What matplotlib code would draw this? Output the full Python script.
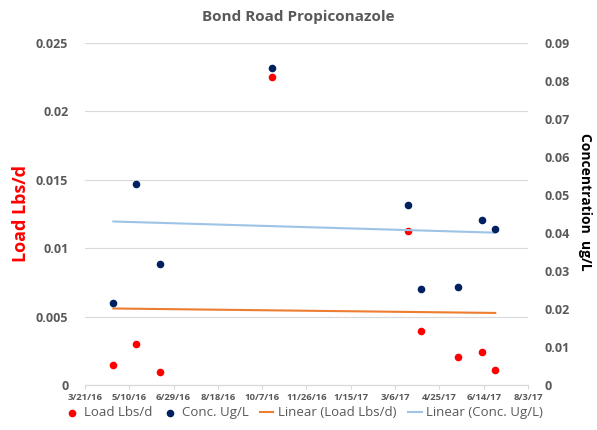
import pandas as pd
import matplotlib
matplotlib.use('Agg')
import matplotlib.pyplot as plt
import matplotlib.dates as mdates
import numpy as np
from matplotlib.ticker import FuncFormatter

dates = ['2016-04-22', '2016-05-18', '2016-06-14', '2016-10-18', '2017-03-21',
         '2017-04-04', '2017-05-16', '2017-06-12', '2017-06-27']
load_lbs_d = [0.00144, 0.00297, 0.00095, 0.0225, 0.01128, 0.00395, 0.00205, 0.00244, 0.0011]
conc_ug_l = [0.0217, 0.0528, 0.0318, 0.0834, 0.0473, 0.0253, 0.0257, 0.0433, 0.0411]

x_tick_labels = ['3/21/16', '5/10/16', '6/29/16', '8/18/16', '10/7/16', '11/26/16',
                 '1/15/17', '3/6/17', '4/25/17', '6/14/17', '8/3/17']
load_ticks = [0, 0.005, 0.01, 0.015, 0.02, 0.025]
conc_ticks = [0, 0.01, 0.02, 0.03, 0.04, 0.05, 0.06, 0.07, 0.08, 0.09]

plt.rcParams['font.family'] = ['Open Sans', 'DejaVu Sans']
grey = '#595959'


def trend(x, y):
    """Excel style linear trendline over the data range."""
    k, b = np.polyfit(x, y, 1)
    xs = np.array([x.min(), x.max()])
    return xs, k * xs + b


def fmt(v, pos):
    return '0' if v == 0 else ('%g' % v)


if __name__ == "__main__":
    d = pd.to_datetime(dates)
    xnum = mdates.date2num(d)
    xticks = mdates.date2num(pd.to_datetime(x_tick_labels, format='%m/%d/%y'))

    fig = plt.figure(figsize=(5.97, 4.30), dpi=100)
    ax = fig.add_axes([0.1424, 0.1047, 0.742, 0.7953])
    ax2 = ax.twinx()

    ax.set_ylim(0, 0.025)
    ax2.set_ylim(0, 0.09)
    ax.set_xlim(xticks[0], xticks[-1])
    ax.set_yticks(load_ticks)
    ax2.set_yticks(conc_ticks)
    ax.yaxis.set_major_formatter(FuncFormatter(fmt))
    ax2.yaxis.set_major_formatter(FuncFormatter(fmt))
    ax.set_xticks(xticks)
    ax.set_xticklabels(x_tick_labels)

    ax.grid(axis='y', color='#D9D9D9', linewidth=0.8)
    ax.set_axisbelow(True)
    for a in (ax, ax2):
        for s in ('left', 'right', 'top'):
            a.spines[s].set_visible(False)
        a.spines['bottom'].set_color('#D9D9D9')
    ax.tick_params(axis='y', length=0, colors=grey, labelsize=9, pad=12)
    ax2.tick_params(axis='y', length=0, colors=grey, labelsize=9, pad=12)
    ax.tick_params(axis='x', length=3, color='#D9D9D9', colors=grey, labelsize=6.8, pad=2.5)
    for lbl in ax.get_yticklabels() + ax2.get_yticklabels():
        lbl.set_fontweight('bold')
    for lbl in ax.get_xticklabels():
        lbl.set_fontweight('bold')

    tx, ty = trend(xnum, np.array(load_lbs_d))
    l3, = ax.plot(tx, ty, color='#ED7D31', linewidth=1.5, label='Linear (Load Lbs/d)')
    cx, cy = trend(xnum, np.array(conc_ug_l))
    l4, = ax2.plot(cx, cy, color='#9DC3E6', linewidth=1.5, label='Linear (Conc. Ug/L)')

    l1 = ax.scatter(xnum, load_lbs_d, s=20, color='#FF0000', zorder=3, label='Load Lbs/d')
    l2 = ax2.scatter(xnum, conc_ug_l, s=20, color='#002060', zorder=3, label='Conc. Ug/L')

    ax.set_ylabel('Load Lbs/d', color='#FF0000', fontsize=13, fontweight='bold', labelpad=4)
    ax2.set_ylabel('Concentration  ug/L', color='black', fontsize=10, fontweight='bold',
                   rotation=270, labelpad=16)
    ax2.yaxis.set_label_coords(1.145, 0.535)
    fig.text(0.5, 0.96, 'Bond Road Propiconazole', ha='center', va='center',
             color=grey, fontsize=11, fontweight='bold')

    fig.legend(handles=[l1, l2, l3, l4], loc='center', bbox_to_anchor=(0.51, 0.04),
               ncol=4, frameon=False, fontsize=9.5, labelcolor=grey,
               handlelength=1.0, handletextpad=0.35, columnspacing=0.9,
               borderpad=0.2)

    fig.savefig('out.png', dpi=100)
